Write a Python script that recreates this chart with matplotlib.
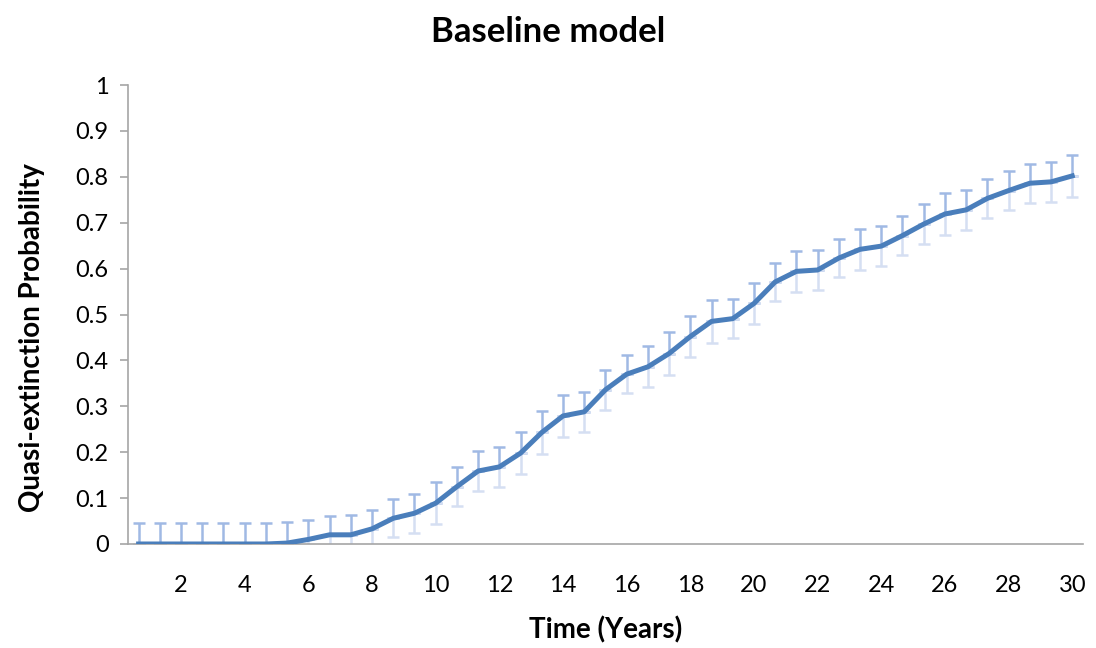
import numpy as np
import matplotlib
matplotlib.use("Agg")
import matplotlib.pyplot as plt

# Quasi-extinction probability, 45 time steps over 30 years
prob = [0, 0, 0, 0, 0, 0, 0, 0.002, 0.01, 0.02, 0.02, 0.033,
        0.056, 0.067, 0.089, 0.125, 0.159, 0.168, 0.198, 0.243, 0.279, 0.288,
        0.336, 0.370, 0.386, 0.415, 0.452, 0.485, 0.491, 0.524, 0.571, 0.594,
        0.597, 0.623, 0.642, 0.649, 0.672, 0.697, 0.719, 0.728, 0.753, 0.770,
        0.786, 0.789, 0.802]
err = [0.045, 0.045, 0.045, 0.045, 0.045, 0.045, 0.045, 0.046, 0.042, 0.040,
       0.043, 0.040, 0.041, 0.042, 0.045, 0.043, 0.043, 0.044, 0.045, 0.047,
       0.046, 0.043, 0.043, 0.042, 0.045, 0.046, 0.045, 0.046, 0.042, 0.044,
       0.042, 0.044, 0.044, 0.042, 0.044, 0.044, 0.043, 0.044, 0.045, 0.044,
       0.043, 0.043, 0.043, 0.043, 0.045]
x_ticks = [2, 4, 6, 8, 10, 12, 14, 16, 18, 20, 22, 24, 26, 28, 30]
y_ticks = [0, 0.1, 0.2, 0.3, 0.4, 0.5, 0.6, 0.7, 0.8, 0.9, 1]

prob = np.array(prob)
err = np.array(err)
years = np.arange(1, len(prob) + 1) * 30 / len(prob)

plt.rcParams['font.family'] = ['Lato', 'DejaVu Sans']

fig = plt.figure(figsize=(10.96, 6.48), dpi=100)
ax = fig.add_axes([0.1168, 0.1605, 0.8712, 0.7083])

# upper and lower halves of the error bars in two shades
ax.errorbar(years, prob, yerr=[np.zeros_like(err), err], fmt='none',
            ecolor='#a0b9e4', elinewidth=1.8, capsize=4, capthick=1.8, zorder=2)
ax.errorbar(years, prob, yerr=[err, np.zeros_like(err)], fmt='none',
            ecolor='#d5dff2', elinewidth=1.8, capsize=4, capthick=1.8, zorder=2)
ax.plot(years, prob, color='#4a7ebb', linewidth=3.6, solid_joinstyle='round', zorder=3)

ax.set_xlim(1 / 3, 30 + 1 / 3)
ax.set_ylim(0, 1)
ax.set_xticks(x_ticks)
ax.set_xticklabels([str(t) for t in x_ticks])
ax.set_yticks(y_ticks)
ax.set_yticklabels(['0', '0.1', '0.2', '0.3', '0.4', '0.5', '0.6', '0.7', '0.8', '0.9', '1'])

for s in ['top', 'right']:
    ax.spines[s].set_visible(False)
for s in ['left', 'bottom']:
    ax.spines[s].set_color('#a6a6a6')
    ax.spines[s].set_linewidth(1.2)
ax.tick_params(axis='x', length=0, labelsize=17, pad=22, colors='#000000')
ax.tick_params(axis='y', length=6, width=1.2, color='#a6a6a6', labelsize=17, pad=8)

ax.set_title('Baseline model', fontsize=25, fontweight='bold', pad=31, x=0.44)
ax.set_xlabel('Time (Years)', fontsize=20, fontweight='bold', labelpad=15)
ax.set_ylabel('Quasi-extinction Probability', fontsize=20, fontweight='bold',
              labelpad=22, y=0.45)

fig.savefig('out.png', dpi=100)
